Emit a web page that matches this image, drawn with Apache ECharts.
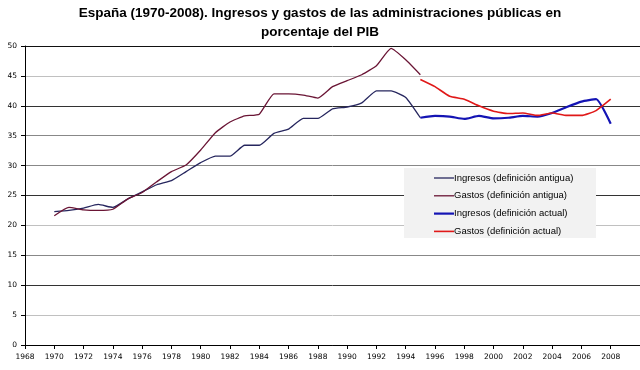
<!DOCTYPE html>
<html><head><meta charset="utf-8">
<script src="https://cdn.jsdelivr.net/npm/echarts@6/dist/echarts.min.js"></script>
<style>html,body{margin:0;padding:0;background:#fff}#c{width:640px;height:370px}</style>
</head><body><div id="c"></div>
<script>
var years = [1970,1971,1972,1973,1974,1975,1976,1977,1978,1979,1980,1981,1982,1983,1984,1985,1986,1987,1988,1989,1990,1991,1992,1993,1994,1995,1996,1997,1998,1999,2000,2001,2002,2003,2004,2005,2006,2007,2008];
var ingresosAntigua = [22.3,22.5,22.9,23.5,23.0,24.4,25.6,26.8,27.5,29.0,30.5,31.6,31.6,33.4,33.4,35.4,36.1,37.9,37.9,39.5,39.8,40.5,42.5,42.5,41.4,38.0,null,null,null,null,null,null,null,null,null,null,null,null,null];
var gastosAntigua = [21.6,23.0,22.6,22.5,22.7,24.4,25.5,27.3,29.0,30.1,32.6,35.5,37.3,38.3,38.6,42.0,42.0,41.8,41.3,43.2,44.2,45.2,46.7,49.6,47.7,45.2,null,null,null,null,null,null,null,null,null,null,null,null,null];
var ingresosActual = [null,null,null,null,null,null,null,null,null,null,null,null,null,null,null,null,null,null,null,null,null,null,null,null,null,38.0,38.3,38.2,37.8,38.3,37.9,38.0,38.3,38.2,38.8,39.8,40.7,41.1,37.0];
var gastosActual = [null,null,null,null,null,null,null,null,null,null,null,null,null,null,null,null,null,null,null,null,null,null,null,null,null,44.4,43.2,41.6,41.1,40.0,39.1,38.7,38.8,38.4,38.8,38.4,38.4,39.2,41.1];
var seriesNames = ['Ingresos (definición antigua)','Gastos (definición antigua)','Ingresos (definición actual)','Gastos (definición actual)'];
var titleLines = ['España (1970-2008). Ingresos y gastos de las administraciones públicas en','porcentaje del PIB'];

function pairs(vals){ return years.map(function(y,i){ return [y, vals[i]]; }); }
function lineIcon(w){ var a = 6 - w/2, b = 6 + w/2;
  return 'path://M0,0L0,0M0,' + a + 'L20,' + a + 'L20,' + b + 'L0,' + b + 'ZM20,12L20,12'; }
var chart = echarts.init(document.getElementById('c'), null, {renderer:'canvas'});
function mk(name, vals, color, width){
  return {name:name, type:'line', data:pairs(vals), symbol:'none', showSymbol:false, connectNulls:false,
    smooth:0.15, lineStyle:{color:color, width:width}, itemStyle:{color:color}, z:5};
}
var widths = [1.3, 1.3, 2.2, 1.6];
chart.setOption({
  animation:false,
  title:{text:titleLines.join('\n'), left:'center', top:-1,
    textStyle:{fontFamily:'Liberation Sans, Arial', fontWeight:'bold', fontSize:13.5, lineHeight:19, color:'#000'}},
  graphic:[{type:'rect', shape:{x:404,y:168,width:192,height:70}, style:{fill:'#f2f2f2'}, z:50}],
  legend:{orient:'vertical', left:434, top:172, padding:0, itemWidth:20, itemHeight:12, itemGap:5.8,
    textStyle:{fontFamily:'Liberation Sans, Arial', fontSize:9.5, color:'#000', padding:[0,0,0,-5]},
    data:seriesNames.map(function(n,i){ return {name:n, icon:lineIcon(widths[i])}; }), z:60},
  grid:{left:25, top:46, bottom:25, width:626},
  xAxis:{type:'value', min:1968, max:2010, interval:2,
    axisLine:{lineStyle:{color:'#000', width:1}}, axisTick:{length:4, lineStyle:{color:'#000'}},
    splitLine:{show:false},
    axisLabel:{showMaxLabel:false, fontFamily:'DejaVu Sans', fontSize:7.5, color:'#000', margin:8, formatter:function(v){return String(v);}}},
  yAxis:{type:'value', min:0, max:50, interval:5,
    axisLine:{show:true, lineStyle:{color:'#000', width:1}}, axisTick:{show:true, length:4, lineStyle:{color:'#000'}},
    splitLine:{show:true, lineStyle:{color:['#000','#c0c0c0','#333','#888','#c0c0c0','#333','#888','#888','#333','#c0c0c0','#111'], width:1}},
    axisLabel:{fontFamily:'DejaVu Sans', fontSize:7.5, color:'#000', margin:8}},
  series:[
    mk(seriesNames[0], ingresosAntigua, '#26265e', widths[0]),
    mk(seriesNames[1], gastosAntigua, '#6a1535', widths[1]),
    mk(seriesNames[2], ingresosActual, '#1414b4', widths[2]),
    mk(seriesNames[3], gastosActual, '#e01818', widths[3])
  ]
});
</script></body></html>
